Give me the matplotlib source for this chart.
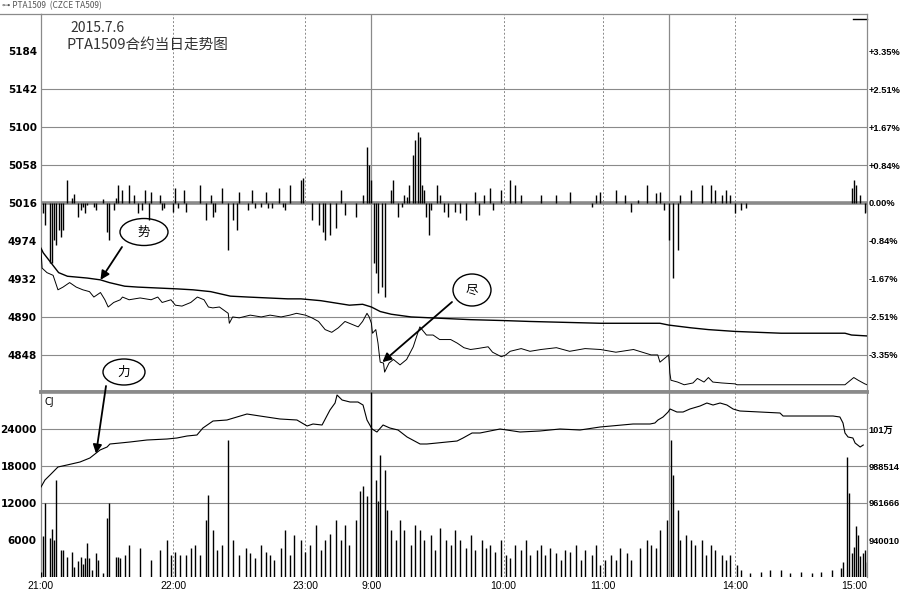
import matplotlib
matplotlib.use("Agg")
import matplotlib.pyplot as plt
from matplotlib.patches import Ellipse
from matplotlib.lines import Line2D

# ---- data (x = minutes since 21:00, trading time only) ----
price_min = [0, 0.5, 2.7, 5.5, 7.7, 10, 13, 16, 19, 22,
             24, 27, 29, 30.5, 33, 36, 37, 40, 45, 50,
             53, 55, 59, 61, 64, 68, 71, 74, 76, 78,
             81, 85, 85.5, 87, 90, 95, 100, 104, 109, 113,
             116, 120, 123, 126, 129, 132, 135, 138, 140, 144,
             146, 148, 149, 150, 150.5, 152, 153, 153.5, 154, 155.5,
             156, 158, 160, 163, 166, 169, 171, 172, 175, 178,
             181, 186, 189, 192, 195, 198, 203, 205, 209, 211,
             213, 218, 222, 227, 234, 240, 247, 254, 261, 269,
             277, 280, 281, 284, 285, 285.5, 286, 289, 292, 296,
             298, 301, 303, 305, 309, 315, 316, 340, 365, 369,
             371, 374, 375]
price_val = [4964, 4944, 4939, 4936, 4920, 4923, 4928, 4923, 4920, 4918,
             4912, 4917, 4909, 4901, 4906, 4909, 4912, 4909, 4911, 4909,
             4912, 4906, 4909, 4903, 4902, 4906, 4912, 4909, 4901, 4900,
             4901, 4894, 4883, 4890, 4889, 4892, 4890, 4892, 4890, 4892,
             4894, 4892, 4889, 4885, 4876, 4873, 4878, 4885, 4883, 4879,
             4885, 4894, 4890, 4883, 4872, 4876, 4861, 4850, 4840, 4839,
             4829, 4839, 4843, 4837, 4843, 4857, 4872, 4879, 4870, 4870,
             4865, 4865, 4861, 4856, 4854, 4855, 4857, 4851, 4846, 4848,
             4852, 4855, 4852, 4854, 4856, 4852, 4855, 4854, 4851, 4854,
             4848, 4848, 4840, 4846, 4848, 4828, 4820, 4818, 4815, 4817,
             4822, 4818, 4823, 4818, 4817, 4816, 4815, 4815, 4815, 4823,
             4820, 4816, 4815]

avg_min = [0, 1, 8, 12, 21, 27, 31, 38, 44, 53,
           62, 69, 77, 86, 94, 103, 112, 118, 127, 140,
           146, 150, 154, 159, 168, 177, 195, 210, 222, 254,
           281, 285, 295, 303, 315, 336, 365, 368, 375]
avg_val = [4966, 4961, 4939, 4935, 4933, 4931, 4928, 4924, 4923, 4922,
           4921, 4920, 4918, 4913, 4912, 4911, 4910, 4910, 4908, 4903,
           4904, 4901, 4896, 4893, 4890, 4889, 4887, 4886, 4885, 4883,
           4883, 4881, 4878, 4876, 4874, 4872, 4872, 4870, 4869]

# bars above / below the 5016 line (minute, points)
chg_bars = [(1, -11), (2, -24), (4, -66), (5, -66), (6, -41), (7, -46), (8, -30), (9, -38), (10, -30), (12, 25),
            (14, 6), (15, 10), (17, -15), (18, -8), (19, -4), (20, -11), (21, -2), (24, -4), (25, -8), (28, 4),
            (30, -32), (31, -41), (33, -8), (34, 6), (35, 20), (37, 14), (40, 20), (42, 9), (44, -11), (46, -8),
            (47, 14), (49, -19), (50, 12), (54, 9), (55, -8), (56, -6), (60, -10), (61, 17), (62, -6), (65, 14),
            (66, -10), (72, 20), (75, -19), (77, 9), (78, -15), (79, -10), (82, 17), (85, -52), (87, -19), (89, -30),
            (90, 12), (94, -8), (96, 14), (97, -6), (100, -4), (102, 12), (103, -6), (105, -6), (108, 17), (110, -4),
            (111, -8), (113, 20), (118, 25), (119, 28), (123, -19), (126, -24), (128, -32), (129, -41), (131, -35), (134, -28),
            (136, 14), (138, -13), (143, -15), (146, 9), (148, 62), (149, 42), (150, 25), (151, -66), (152, -77), (153, -99),
            (155, -93), (156, -104), (159, 14), (160, 25), (162, -15), (164, -4), (165, 9), (166, 7), (167, 20), (169, 53),
            (170, 70), (171, 78), (172, 73), (173, 20), (174, 14), (175, -15), (176, -35), (177, -8), (180, 20), (181, 9),
            (183, -10), (185, -15), (188, -10), (190, -11), (193, -19), (197, 12), (199, -13), (201, 9), (204, 17), (205, -8),
            (209, 14), (213, 25), (215, 20), (218, 9), (227, 9), (234, 9), (240, 12), (250, -4), (252, 9), (254, 12),
            (261, 14), (265, 9), (268, -10), (271, 3), (275, 20), (279, 11), (281, 12), (283, -8), (285, -41), (287, -83),
            (289, -52), (290, 9), (295, 14), (300, 20), (304, 20), (306, 14), (309, 9), (311, 14), (313, 9), (315, -11),
            (318, -8), (320, -6), (368, 17), (369, 25), (370, 20), (372, 9), (374, -11), (375, -10)]

# volume (CJ) bars (minute, lots)
vol_bars = [(0, 800), (1, 6650), (2, 12000), (4, 6300), (5, 7800), (6, 6000), (7, 15700), (9, 4400), (10, 4400), (12, 3200),
            (14, 4000), (15, 1600), (17, 2600), (18, 3200), (19, 2100), (20, 3100), (21, 5500), (22, 3100), (23, 1100), (25, 3900),
            (26, 2800), (28, 650), (30, 9600), (31, 12000), (34, 3200), (35, 3200), (36, 3100), (38, 3600), (40, 5200), (45, 4700),
            (50, 2700), (54, 4400), (57, 6000), (59, 3600), (61, 4100), (63, 3600), (66, 3600), (68, 4700), (70, 5200), (72, 3600),
            (75, 9200), (76, 13300), (78, 7600), (80, 4400), (82, 5200), (85, 22200), (87, 6000), (90, 3600), (93, 4700), (95, 3900),
            (97, 3100), (100, 5200), (102, 4100), (104, 3600), (106, 2700), (109, 4700), (111, 7600), (113, 3600), (115, 6800), (118, 6000),
            (120, 4100), (122, 5200), (125, 8400), (127, 4400), (129, 6000), (131, 7000), (134, 9200), (136, 6000), (138, 8400), (140, 5200),
            (143, 9200), (145, 14000), (146, 14800), (148, 13100), (150, 30000), (152, 15700), (153, 12300), (154, 19800), (156, 17300), (157, 10900),
            (159, 7600), (161, 6000), (163, 9200), (165, 7600), (168, 5200), (170, 8400), (172, 7600), (174, 6000), (177, 6800), (179, 4400),
            (181, 7900), (184, 6000), (186, 5200), (188, 7600), (190, 6000), (193, 4700), (195, 6800), (197, 4400), (200, 6000), (202, 4700),
            (204, 5200), (206, 4100), (209, 6000), (211, 3600), (213, 3100), (215, 5200), (218, 4400), (220, 6000), (222, 3600), (225, 4400),
            (227, 5200), (229, 3600), (231, 4700), (234, 3900), (236, 2700), (238, 4400), (240, 4100), (243, 5200), (245, 2700), (247, 4400),
            (250, 3600), (252, 5200), (254, 1900), (256, 2700), (259, 3600), (261, 2700), (263, 4700), (266, 3900), (268, 2700), (272, 4700),
            (275, 6000), (277, 5200), (279, 4700), (281, 7600), (284, 9200), (286, 22200), (287, 16500), (289, 10900), (290, 6000), (293, 6800),
            (295, 6000), (297, 5200), (300, 6000), (302, 3600), (304, 5200), (306, 4400), (309, 3600), (311, 2700), (313, 3600), (316, 1900),
            (318, 1100), (322, 650), (327, 800), (331, 1100), (336, 1100), (340, 650), (345, 800), (350, 650), (354, 800), (359, 1100),
            (363, 1500), (364, 2400), (366, 19500), (367, 13600), (368, 3900), (369, 4900), (370, 8300), (371, 6800), (372, 3400), (373, 3900),
            (374, 4400), (375, 2400)]

# open interest line (minute, lots)
oi_pts = [(0, 973270), (1.8, 978350), (4.1, 981980), (7.7, 987790), (11.8, 989240), (17.7, 991410), (22.2, 994320), (24.5, 997220), (26.8, 1000120), (30, 1002300),
          (31.3, 1004480), (35.9, 1005200), (40.4, 1005930), (48.1, 1007380), (57.2, 1008100), (61.7, 1008830), (66.3, 1010280), (70.8, 1011010), (73.5, 1016080), (78.1, 1021160),
          (84.4, 1021890), (93.5, 1026240), (99.4, 1024790), (108.5, 1022620), (116.2, 1021890), (120.8, 1017540), (123.5, 1018990), (127.6, 1018260), (131.2, 1029150), (133.5, 1034220),
          (134.4, 1040030), (136.7, 1036400), (140.3, 1034950), (143.9, 1034950), (146.2, 1032770), (148, 1021890), (150.3, 1015360), (152.5, 1013180), (155.3, 1018260), (158.4, 1016080),
          (162.1, 1014630), (166.2, 1009550), (172.1, 1004480), (175.2, 1004480), (179.8, 1005200), (184.3, 1005930), (188.9, 1006650), (191.6, 1008830), (195.7, 1012460), (199.3, 1012460),
          (208.4, 1015360), (217.5, 1013180), (226.5, 1013910), (235.6, 1015360), (244.7, 1014630), (253.8, 1016810), (268.8, 1018990), (276.5, 1018990), (278.7, 1019710), (280.1, 1021890),
          (282.4, 1024070), (284.7, 1027690), (285.6, 1029870), (288.7, 1027690), (291.5, 1027690), (294.6, 1029870), (299.2, 1032050), (302.3, 1034220), (305.1, 1032770), (308.3, 1034220),
          (311.4, 1032770), (314.2, 1029870), (317.3, 1028420), (335.5, 1026970), (336.9, 1024790), (359.6, 1024790), (362.7, 1024070), (364.1, 1019710), (365, 1012460), (366.4, 1009550),
          (368.6, 1008830), (369.6, 1005200), (371.9, 1002300), (373.3, 1003750)]

price_ticks = [5184, 5142, 5100, 5058, 5016, 4974, 4932, 4890, 4848]
pct_labels = ["+3.35%", "+2.51%", "+1.67%", "+0.84%", "0.00%", "-0.84%", "-1.67%", "-2.51%", "-3.35%"]
vol_ticks = [24000, 18000, 12000, 6000]
oi_ticks = [1015362, 988514, 961666, 934818]
oi_labels = ["101万", "988514", "961666", "940010"]
time_ticks = [0, 60, 120, 150, 210, 255, 315, 375]
time_labels = ["21:00", "22:00", "23:00", "9:00", "10:00", "11:00", "14:00", "15:00"]
dashed_times = [60, 120, 210, 255, 315]
session_times = [150, 285]

PRE_CLOSE = 5016
CJK = ["Noto Sans CJK SC", "DejaVu Sans"]
RIGHT_FONT = ["Liberation Sans", "Noto Sans CJK SC"]
GRID = "#8a8a8a"
W, H = 900, 590


def fx(px):
    return px / W


def fy(py):
    return 1 - py / H


fig = plt.figure(figsize=(9, 5.9), dpi=100)
fig.patch.set_facecolor("white")

L, R = 41, 867
ax1 = fig.add_axes([fx(L), fy(392), (R - L) / W, (392 - 14) / H])
ax2 = fig.add_axes([fx(L), fy(577), (R - L) / W, (577 - 392) / H], sharex=ax1)
ax1.set_xlim(0, 375)
ax1.set_ylim(4807, 5225)
ax2.set_ylim(0, 30000)

# grid
for p in [5142, 5100, 5058, 4890, 4848]:
    ax1.axhline(p, color=GRID, lw=0.8, zorder=1)
ax1.axhline(PRE_CLOSE, color=GRID, lw=2.6, zorder=1)
for v in vol_ticks[:3]:
    ax2.axhline(v, color=GRID, lw=0.8, zorder=1)
for ax in (ax1, ax2):
    for m in dashed_times:
        ax.axvline(m, color=GRID, lw=0.7, ls=(0, (2, 2)), zorder=1)
    for m in session_times:
        ax.axvline(m, color=GRID, lw=0.9, zorder=1)

# upper panel
bar_min, bar_chg = zip(*chg_bars)
ax1.vlines(bar_min, PRE_CLOSE, [PRE_CLOSE + c for c in bar_chg], color="black", lw=1, zorder=3)
ax1.plot(price_min, price_val, color="black", lw=0.7, zorder=4)
ax1.plot(avg_min, avg_val, color="black", lw=1.0, zorder=4)
ax1.plot([0.983, 1.0], [0.987, 0.987], transform=ax1.transAxes, color="black", lw=1, clip_on=False)

# lower panel
vol_min, vol_val = zip(*vol_bars)
ax2.vlines(vol_min, 0, vol_val, color="black", lw=1, zorder=3)
ax2.text(0.004, 0.975, "CJ", transform=ax2.transAxes, fontsize=7, va="top", ha="left")

ax2r = ax2.twinx()
ax2r.set_ylim(907970, 1042210)
oi_min, oi_val = zip(*oi_pts)
ax2r.plot(oi_min, oi_val, color="black", lw=0.8, zorder=4)

ax1r = ax1.twinx()
ax1r.set_ylim(ax1.get_ylim())

# spines & ticks
for ax in (ax1, ax2, ax1r, ax2r):
    for s in ax.spines.values():
        s.set_color(GRID)
        s.set_linewidth(0.9)
    ax.tick_params(length=0)
for ax in (ax1r, ax2r):
    for s in ax.spines.values():
        s.set_visible(False)
ax1.spines["bottom"].set_linewidth(2.6)
ax2.spines["top"].set_linewidth(2.6)
ax2.spines["bottom"].set_visible(False)

ax1.set_yticks(price_ticks)
ax1.set_yticklabels([str(p) for p in price_ticks], fontsize=7.5, fontweight="bold")
ax1.tick_params(axis="x", labelbottom=False)
ax1.tick_params(axis="y", pad=3)
ax1r.set_yticks(price_ticks)
ax1r.set_yticklabels(pct_labels, fontsize=6.7, fontweight="bold", family=RIGHT_FONT)
ax1r.tick_params(axis="y", pad=1.2)

ax2.set_yticks(vol_ticks)
ax2.set_yticklabels([str(v) for v in vol_ticks], fontsize=7.5, fontweight="bold")
ax2.tick_params(axis="y", pad=3)
ax2r.set_yticks(oi_ticks)
ax2r.set_yticklabels(oi_labels, fontsize=6.7, fontweight="bold", family=RIGHT_FONT)
ax2r.tick_params(axis="y", pad=1.2)

ax2.set_xticks(time_ticks)
ax2.set_xticklabels(time_labels, fontsize=7.5, family="Liberation Sans")
ax2.get_xticklabels()[-1].set_horizontalalignment("right")
ax2.tick_params(axis="x", pad=3)

# header and title
fig.add_artist(Line2D([0, fx(L)], [fy(14), fy(14)], color=GRID, lw=0.9))
fig.text(fx(2), fy(6), "⊶ PTA1509  (CZCE TA509)", fontsize=6, color="#555555", va="center", family=CJK)
fig.text(fx(70), fy(28), "2015.7.6", fontsize=10, color="#333333", va="center", family=CJK)
fig.text(fx(67), fy(45), "PTA1509合约当日走势图", fontsize=10.5, color="#333333", va="center", family=CJK)

# callouts
callouts = [("势", (144, 232), 48, 27), ("尽", (472, 290), 38, 32), ("力", (124, 372), 42, 26)]
for label, (cx, cy), w, h in callouts:
    fig.add_artist(Ellipse((fx(cx), fy(cy)), w / W, h / H, transform=fig.transFigure,
                           fill=False, ec="black", lw=1.0))
    fig.text(fx(cx), fy(cy), label, fontsize=9, ha="center", va="center", family=CJK)

arrow = dict(arrowstyle="-|>", color="black", lw=1.3, mutation_scale=13, shrinkA=0, shrinkB=0)
ax1.annotate("", xy=(27, 4931), xytext=(fx(122), fy(247)), textcoords="figure fraction", arrowprops=arrow)
ax1.annotate("", xy=(155, 4840), xytext=(fx(452), fy(302)), textcoords="figure fraction", arrowprops=arrow)
ax2r.annotate("", xy=(25, 997500), xytext=(fx(106), fy(386)), textcoords="figure fraction", arrowprops=arrow)

fig.savefig("out.png", dpi=100)
